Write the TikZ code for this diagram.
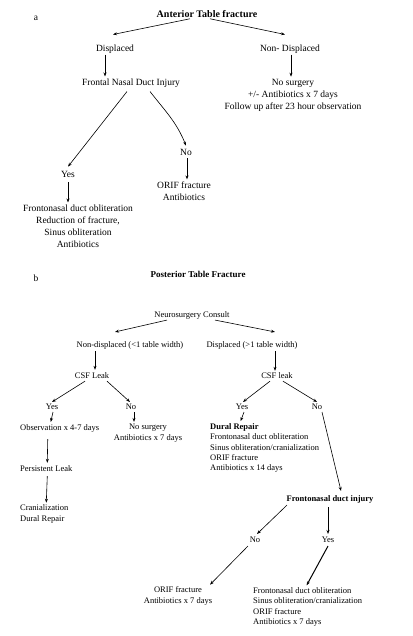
\documentclass[tikz,border=0pt]{standalone}
\usepackage{fontspec}
\setmainfont{Liberation Serif}
\usetikzlibrary{arrows.meta}
\begin{document}
\begin{tikzpicture}[x=1pt, y=-1pt,
    txta/.style={inner sep=1pt, align=center, font=\fontsize{9.5}{12}\selectfont},
    txtb/.style={inner sep=1pt, align=center, font=\fontsize{8.5}{10.4}\selectfont},
    ttl/.style={inner sep=1pt, font=\fontsize{10}{12}\selectfont\bfseries},
    arrow/.style={-{Stealth[length=4pt, width=3pt]}, line width=0.6pt},
    thickarrow/.style={arrow, line width=1pt}
]
\useasboundingbox (0,0) rectangle (412,636);

\node[txta] at (36,18) (lbla) {a};
\node[ttl] at (207,14) (anttitle) {Anterior Table fracture};
\node[txta] at (115,49) (disp) {Displaced};
\node[txta] at (290,49) (nondisp) {Non- Displaced};
\node[txta] at (131,83) (fndi) {Frontal Nasal Duct Injury};
\node[txta] at (293,95) (nosurga) {No surgery\\+/- Antibiotics x 7 days\\Follow up after 23 hour observation};
\node[txta] at (68,174) (yesa) {Yes};
\node[txta] at (186,152) (noa) {No};
\node[txta] at (78,226) (fdoa) {Frontonasal duct obliteration\\Reduction of fracture,\\Sinus obliteration\\Antibiotics};
\node[txta] at (184,191) (orifa) {ORIF fracture\\Antibiotics};

\draw[arrow] ([xshift=-17pt]anttitle.south) -- ([xshift=-2pt, yshift=9pt]disp.north);
\draw[arrow] ([xshift=3pt]anttitle.south) -- ([xshift=-5pt, yshift=9pt]nondisp.north);
\draw[arrow] ([xshift=-10pt]disp.south) -- ([xshift=-26pt, yshift=1pt]fndi.north);
\draw[arrow] ([xshift=1pt]nondisp.south) -- ([xshift=-2pt, yshift=1pt]nosurga.north);
\draw[arrow] ([xshift=-4pt, yshift=-3pt]fndi.south) -- ([yshift=3pt]yesa.north);
\draw[arrow] ([xshift=19pt, yshift=-3pt]fndi.south) to[out=-52, in=112] ([yshift=2pt]noa.north);
\draw[arrow] ([yshift=-4pt]yesa.south) -- ([xshift=-10pt, yshift=1pt]fdoa.north);
\draw[thickarrow] ([xshift=1pt, yshift=-2pt]noa.south) -- ([xshift=3pt, yshift=1pt]orifa.north);

\node[txta] at (36,278) (lblb) {b};
\node[ttl, font=\fontsize{9}{11}\selectfont\bfseries] at (198,274) (posttitle) {Posterior Table Fracture};
\node[txtb] at (192,315) (nsc) {Neurosurgery Consult};
\node[txtb] at (130,345) (nondispb) {Non-displaced (<1 table width)};
\node[txtb] at (252,345) (dispb) {Displaced (>1 table width)};
\node[txtb] at (92,376) (csfl) {CSF Leak};
\node[txtb] at (277,376) (csfr) {CSF leak};
\node[txtb] at (52,407) (yesl) {Yes};
\node[txtb] at (131,407) (nol) {No};
\node[txtb] at (242,407) (yesr) {Yes};
\node[txtb] at (317,407) (nor) {No};
\node[txtb, anchor=west] at (19,428) (obs) {Observation x 4-7 days};
\node[txtb] at (148,433) (nosurgb) {No surgery\\Antibiotics x 7 days};
\node[txtb, anchor=west] at (19,469) (persist) {Persistent Leak};
\node[txtb, anchor=west, align=left] at (19,514) (cranial) {Cranialization\\Dural Repair};
\node[txtb, anchor=west, align=left] at (209,448) (dural) {\textbf{Dural Repair}\\Frontonasal duct obliteration\\Sinus obliteration/cranialization\\ORIF fracture\\Antibiotics x 14 days};
\node[txtb, font=\fontsize{8.5}{10.4}\selectfont\bfseries] at (330,499) (fdi) {Frontonasal duct injury};
\node[txtb] at (255,540) (nob) {No};
\node[txtb] at (328,540) (yesb) {Yes};
\node[txtb] at (178,596) (orifb) {ORIF fracture\\Antibiotics x 7 days};
\node[txtb, anchor=west, align=left] at (252,607) (fdob) {Frontonasal duct obliteration\\Sinus obliteration/cranialization\\ORIF fracture\\Antibiotics x 7 days};

\draw[arrow] ([xshift=-25pt]nsc.south) -- ([xshift=-15pt, yshift=8pt]nondispb.north);
\draw[arrow] ([xshift=23pt]nsc.south) -- ([xshift=23pt, yshift=8pt]dispb.north);
\draw[arrow] ([xshift=-35pt, yshift=-1pt]nondispb.south) -- ([xshift=3pt, yshift=2pt]csfl.north);
\draw[arrow] ([xshift=23pt, yshift=-1pt]dispb.south) -- ([xshift=-2pt, yshift=1pt]csfr.north);
\draw[arrow] ([xshift=-7pt, yshift=-1pt]csfl.south) -- ([yshift=1pt]yesl.north);
\draw[arrow] ([xshift=15pt, yshift=-1pt]csfl.south) -- ([xshift=-1pt, yshift=1pt]nol.north);
\draw[arrow] ([xshift=-7pt, yshift=-1pt]csfr.south) -- ([xshift=1pt, yshift=1pt]yesr.north);
\draw[arrow] ([xshift=6pt, yshift=-1pt]csfr.south) -- ([yshift=1pt]nor.north);
\draw[arrow] ([xshift=1pt, yshift=-1pt]yesl.south) -- ([xshift=-9pt, yshift=1pt]obs.north);
\draw[arrow] ([xshift=3pt, yshift=-1pt]nol.south) -- ([xshift=-14pt, yshift=1pt]nosurgb.north);
\draw[arrow] ([xshift=-12pt, yshift=-6pt]obs.south) -- ([xshift=1pt, yshift=2pt]persist.north);
\draw[arrow] ([xshift=1pt, yshift=-3pt]persist.south) -- ([xshift=2pt, yshift=1pt]cranial.north);
\draw[arrow] ([xshift=2pt, yshift=-1pt]yesr.south) -- ([xshift=-24pt, yshift=1pt]dural.north);
\draw[arrow] ([xshift=5pt, yshift=-1pt]nor.south) -- ([xshift=11pt, yshift=3pt]fdi.north);
\draw[arrow] ([xshift=-43pt, yshift=-1pt]fdi.south) -- ([xshift=2pt, yshift=2pt]nob.north);
\draw[thickarrow] ([xshift=-2pt, yshift=-3pt]fdi.south) -- ([yshift=2pt]yesb.north);
\draw[arrow] ([xshift=-7pt, yshift=-2pt]nob.south) -- ([xshift=32pt, yshift=1pt]orifb.north);
\draw[thickarrow] ([yshift=-2pt]yesb.south) -- ([xshift=-1pt, yshift=1pt]fdob.north);
\end{tikzpicture}
\end{document}
